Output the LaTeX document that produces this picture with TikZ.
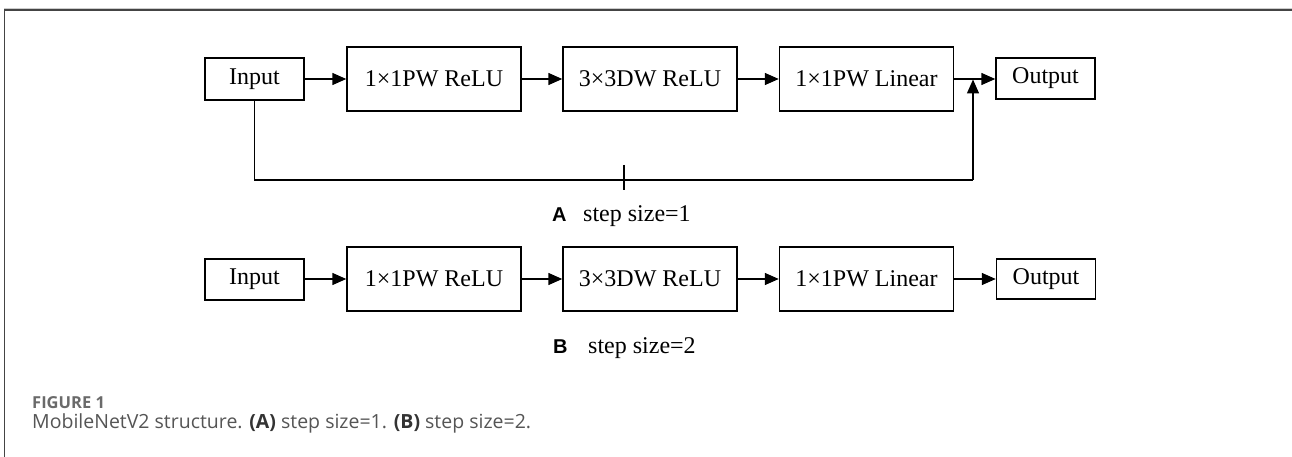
\documentclass[tikz,border=0pt]{standalone}
\usepackage{fontspec}
\setmainfont{Liberation Serif}
\newfontfamily\labfont{Liberation Sans}
\newfontfamily\capfont{Open Sans}
\usetikzlibrary{arrows.meta}
\definecolor{capgray}{HTML}{555555}
\definecolor{figgray}{HTML}{6A6A6A}
\definecolor{capdark}{HTML}{333333}
\definecolor{framegray}{HTML}{444444}
\tikzset{
  blk/.style={draw=black, line width=1.5pt, inner sep=0pt, font=\fontsize{24}{28}\selectfont, fill=white},
  smallblk/.style={blk, minimum width=99pt, minimum height=42pt},
  bigblk/.style={blk, minimum width=174pt, minimum height=64pt},
  arr/.style={line width=1.5pt, -{Triangle[length=14pt,width=12pt]}},
  conn/.style={line width=1.5pt},
  lab/.style={inner sep=0pt, anchor=base west, font=\fontsize{24}{28}\selectfont},
  letter/.style={inner sep=0pt, anchor=base west, font=\labfont\bfseries\fontsize{20}{24}\selectfont},
  captext/.style={inner sep=0pt, anchor=base west, text=capgray}
}
\begin{document}
\begin{tikzpicture}[x=1pt,y=-1pt]
\useasboundingbox[fill=white] (0,0) rectangle (1292,457);
% frame
\draw[color=black!20, line width=0.8pt] (4,8.6) -- (1292,8.6);
\draw[color=framegray, line width=1.3pt] (4,10) -- (1292,10);
\draw[color=framegray, line width=1pt] (4,10) -- (4,457);
% row A
\node[smallblk] (inA) at (254.5,79) {Input};
\node[bigblk] (pwA) at (434,79) {1×1PW ReLU};
\node[bigblk] (dwA) at (650,79) {3×3DW ReLU};
\node[bigblk] (linA) at (866.5,79) {1×1PW Linear};
\node[smallblk, minimum height=41pt] (outA) at (1045.5,78.5) {Output};
\draw[arr] (inA) -- (pwA);
\draw[arr] (pwA) -- (dwA);
\draw[arr] (dwA) -- (linA);
\draw[arr] (linA.east |- 0,79) -- (outA.west |- 0,79);
\coordinate (jA) at (973,79.5);
\coordinate (skA) at (973,180);
\draw[conn] (inA.south) |- (skA);
\draw[arr] (skA) -- (jA);
\draw[conn] (624,165) -- (624,190);
\draw[conn] (612,180) -- (637,180);
\node[letter] (la) at (552,222) {A};
\node[lab] (ta) at (583,222) {step size=1};
% row B
\node[smallblk, minimum height=41pt] (inB) at (254.5,279.5) {Input};
\node[bigblk] (pwB) at (434,279) {1×1PW ReLU};
\node[bigblk] (dwB) at (650,279) {3×3DW ReLU};
\node[bigblk] (linB) at (866.5,279) {1×1PW Linear};
\node[smallblk, minimum height=40pt] (outB) at (1046,279) {Output};
\draw[arr] (inB.east |- 0,279) -- (pwB.west);
\draw[arr] (pwB) -- (dwB);
\draw[arr] (dwB) -- (linB);
\draw[arr] (linB) -- (outB.west |- 0,279);
\node[letter] (lb) at (553,353) {B};
\node[lab] (tb) at (588,353) {step size=2};
% caption
\node[captext, text=figgray, font=\capfont\bfseries\fontsize{16.5}{20}\selectfont] (fig) at (32,408) {FIGURE 1};
\node[captext, font=\capfont\fontsize{19.5}{23}\selectfont] (capt) at (32,428) {MobileNetV2 structure. {\bfseries\color{capdark}(A)} step size=1. {\bfseries\color{capdark}(B)} step size=2.};
\end{tikzpicture}
\end{document}
